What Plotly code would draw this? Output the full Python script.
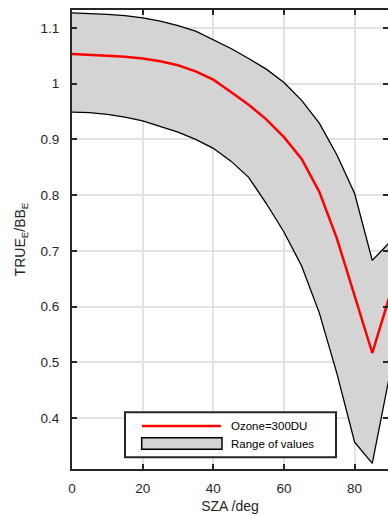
import plotly.graph_objects as go

sza = [0, 5, 10, 15, 20, 25, 30, 35, 40, 45, 50, 55, 60, 65, 70, 75, 80, 85, 90]
ozone300 = [1.053, 1.052, 1.050, 1.048, 1.045, 1.040, 1.033, 1.022, 1.007, 0.985,
            0.962, 0.936, 0.904, 0.865, 0.806, 0.722, 0.620, 0.517, 0.621]
upper = [1.127, 1.126, 1.124, 1.122, 1.118, 1.112, 1.104, 1.094, 1.079, 1.063,
         1.045, 1.026, 1.002, 0.970, 0.929, 0.872, 0.803, 0.683, 0.716]
lower = [0.949, 0.948, 0.945, 0.940, 0.933, 0.923, 0.913, 0.900, 0.884, 0.861,
         0.832, 0.785, 0.734, 0.673, 0.589, 0.480, 0.357, 0.319, 0.480]

xticks = [0, 20, 40, 60, 80]
yticks = [0.4, 0.5, 0.6, 0.7, 0.8, 0.9, 1.0, 1.1]
ytick_text = ["0.4", "0.5", "0.6", "0.7", "0.8", "0.9", "1", "1.1"]
legend_labels = ["Ozone=300DU", "Range of values"]

AX = "#262626"
GRID = "#e3e3e3"
FILL = "#d4d4d4"
RED = "#ff0000"
FONT = "Liberation Sans, Arial, Helvetica, sans-serif"

fig = go.Figure()
fig.add_trace(go.Scatter(x=sza, y=lower, mode="lines", line=dict(color="black", width=1.3),
                         showlegend=False, hoverinfo="skip"))
fig.add_trace(go.Scatter(x=sza, y=upper, mode="lines", line=dict(color="black", width=1.3),
                         fill="tonexty", fillcolor=FILL, name=legend_labels[1], showlegend=False))
fig.add_trace(go.Scatter(x=sza, y=ozone300, mode="lines", line=dict(color=RED, width=2.5),
                         name=legend_labels[0], showlegend=False))
# invisible trace to carry right-side ticks
fig.add_trace(go.Scatter(x=[sza[0]], y=[ozone300[0]], yaxis="y2", mode="markers",
                         marker=dict(opacity=0), showlegend=False, hoverinfo="skip"))

# plot area spans pixels x 72..388, y 10..469 -> paper coords for the manual legend
def px(x):
    return (x - 72) / 316.0

def py(y):
    return (469 - y) / 459.0

shapes = [
    dict(type="rect", xref="paper", yref="paper", x0=px(125), x1=px(336), y0=py(457.3), y1=py(412.3),
         fillcolor="white", line=dict(color=AX, width=2), layer="above"),
    dict(type="line", xref="paper", yref="paper", x0=px(142), x1=px(221), y0=py(426), y1=py(426),
         line=dict(color=RED, width=2.5), layer="above"),
    dict(type="rect", xref="paper", yref="paper", x0=px(141.7), x1=px(222), y0=py(449.3), y1=py(437.7),
         fillcolor=FILL, line=dict(color="black", width=1.5), layer="above"),
]
annotations = [
    dict(xref="paper", yref="paper", x=px(229), y=py(426), text=legend_labels[0], showarrow=False,
         xanchor="left", yanchor="middle", font=dict(size=11.5, color="black")),
    dict(xref="paper", yref="paper", x=px(229), y=py(443.5), text=legend_labels[1], showarrow=False,
         xanchor="left", yanchor="middle", font=dict(size=11.5, color="black")),
]

fig.update_layout(
    width=388, height=515,
    margin=dict(l=72, r=0, t=10, b=46),
    plot_bgcolor="white", paper_bgcolor="white",
    font=dict(family=FONT, size=13, color=AX),
    xaxis=dict(range=[0, 89.45], tickvals=xticks, ticks="inside", ticklen=5, tickwidth=2,
               tickcolor=AX, showline=True, linecolor=AX, linewidth=2, mirror="ticks",
               showgrid=True, gridcolor=GRID, gridwidth=2, zeroline=False, automargin=False,
               ticklabelstandoff=6,
               title=dict(text="SZA /deg", font=dict(size=14), standoff=6),
               tickfont=dict(size=13.5)),
    yaxis=dict(range=[0.309, 1.132], tickvals=yticks, ticktext=ytick_text, ticks="inside",
               ticklen=5, tickwidth=2, tickcolor=AX, showline=True, linecolor=AX, linewidth=2,
               showgrid=True, gridcolor=GRID, gridwidth=2, zeroline=False, automargin=False,
               ticklabelstandoff=8,
               title=dict(text="TRUE<sub>E</sub>/BB<sub>E</sub>", font=dict(size=14), standoff=12),
               tickfont=dict(size=13.5)),
    yaxis2=dict(overlaying="y", side="right", matches="y", range=[0.309, 1.132], tickvals=yticks,
                ticks="inside", ticklen=5, tickwidth=2, tickcolor=AX, showticklabels=False,
                showline=False, showgrid=False, zeroline=False),
    shapes=shapes,
    annotations=annotations,
    showlegend=False,
)

fig.write_html("out.html", config={"displayModeBar": False},
               post_script="document.body.style.margin='0';document.body.style.overflow='hidden';")
